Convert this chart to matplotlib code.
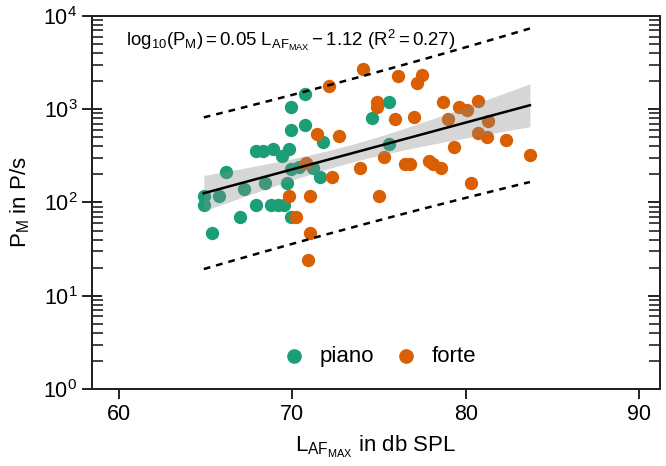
import numpy as np
import matplotlib
matplotlib.use('Agg')
import matplotlib.pyplot as plt

plt.rcParams['font.family'] = 'Liberation Sans'
plt.rcParams['mathtext.fontset'] = 'custom'
plt.rcParams['mathtext.rm'] = 'Liberation Sans'
plt.rcParams['mathtext.it'] = 'Liberation Sans:italic'
plt.rcParams['mathtext.default'] = 'regular'

# Data
piano_L = [64.9, 64.9, 65.4, 65.8, 66.2, 67.0, 67.2, 67.9, 67.9, 68.3, 68.4,
           68.8, 68.9, 69.2, 69.5, 69.4, 69.7, 69.8, 69.9, 69.9, 69.9, 69.9,
           70.4, 70.75, 70.75, 71.2, 71.6, 71.8, 74.6, 75.6, 75.6]
piano_P = [117, 94, 47, 117, 212, 70, 139, 356, 94, 356, 162,
           94, 374, 94, 94, 315, 162, 374, 1052, 597, 228, 70,
           240, 1451, 676, 234, 187, 444, 803, 1191, 423]

forte_L = [69.8, 70.2, 70.8, 70.9, 71.0, 71.0, 71.4, 72.1, 72.3, 72.7, 73.9,
           74.1, 74.9, 74.9, 75.0, 75.3, 75.9, 76.1, 76.5, 76.8, 77.0, 77.2,
           77.5, 77.9, 78.1, 78.6, 78.7, 79.0, 79.3, 79.6, 80.1, 80.3, 80.7,
           80.7, 81.2, 81.3, 82.35, 83.7]
forte_P = [117, 70, 265, 24, 117, 47, 541, 1767, 187, 515, 234,
           2690, 1191, 1052, 117, 307, 783, 2260, 258, 258, 822, 1903,
           2317, 278, 258, 234, 1191, 783, 393, 1052, 977, 162, 1221,
           555, 502, 746, 467, 323]

t_crit = 1.996  # t quantile, 95 %, df = n - 2

# Regression on log10(P)
x = np.array(piano_L + forte_L)
y = np.log10(np.array(piano_P + forte_P))
n = len(x)
slope, intercept = np.polyfit(x, y, 1)
resid = y - (slope * x + intercept)
s = np.sqrt(np.sum(resid ** 2) / (n - 2))
xm = x.mean()
sxx = np.sum((x - xm) ** 2)

xs = np.linspace(x.min(), x.max(), 100)
ys = slope * xs + intercept
ci = t_crit * s * np.sqrt(1 / n + (xs - xm) ** 2 / sxx)
pi = t_crit * s * np.sqrt(1 + 1 / n + (xs - xm) ** 2 / sxx)

fig = plt.figure(figsize=(6.66, 4.66), dpi=100)
ax = fig.add_axes([0.138, 0.165, 0.853, 0.801])

ax.scatter(piano_L, piano_P, s=92, color='#1b9e77', linewidths=0, label='piano', zorder=2)
ax.scatter(forte_L, forte_P, s=92, color='#d95f02', linewidths=0, label='forte', zorder=2)

ax.fill_between(xs, 10 ** (ys - ci), 10 ** (ys + ci), color='#8a8a8a', alpha=0.35,
                linewidth=0, zorder=3)
ax.plot(xs, 10 ** ys, color='black', lw=1.8, zorder=4)
ax.plot(xs, 10 ** (ys + pi), color='black', lw=1.8, ls=(0, (2.7, 2.4)), zorder=4)
ax.plot(xs, 10 ** (ys - pi), color='black', lw=1.8, ls=(0, (2.7, 2.4)), zorder=4)

ax.set_yscale('log')
ax.set_ylim(1, 1e4)
ax.set_xlim(58.45, 91.2)
ax.set_xticks([60, 70, 80, 90])

for sp in ax.spines.values():
    sp.set_linewidth(1.4)
    sp.set_color('#222222')

ax.tick_params(axis='x', which='major', direction='out', length=7, width=1.4,
               labelsize=15.5, pad=4, color='#222222')
ax.tick_params(axis='y', which='major', direction='inout', length=14, width=1.4,
               labelsize=15.5, color='#222222')
ax.tick_params(axis='y', which='minor', direction='in', length=8, width=1.2,
               color='#222222')
ax.tick_params(axis='x', which='minor', bottom=False)

# right-hand ticks, inward only
ax2 = ax.twinx()
ax2.set_yscale('log')
ax2.set_ylim(ax.get_ylim())
ax2.tick_params(axis='y', which='major', direction='in', length=9, width=1.4,
                labelright=False, color='#222222')
ax2.tick_params(axis='y', which='minor', direction='in', length=8, width=1.2,
                color='#222222')
for sp in ax2.spines.values():
    sp.set_linewidth(1.4)
    sp.set_color('#222222')

ax.set_xlabel(r'$L_{AF_{MAX}}$ in db SPL', fontsize=16, labelpad=6)
ax.set_ylabel(r'$P_M$ in P/s', fontsize=16, labelpad=8)

ax.text(0.06, 0.935, r'$log_{10}(P_M) = 0.05\ L_{AF_{MAX}} - 1.12\ (R^2 = 0.27)$',
        transform=ax.transAxes, fontsize=13.4, va='center', ha='left')

ax.legend(loc='center', bbox_to_anchor=(0.497, 0.088), ncol=2, frameon=False,
          fontsize=16, handletextpad=0.15, columnspacing=0.45, markerscale=1.1)

fig.savefig('out.png', dpi=100)
